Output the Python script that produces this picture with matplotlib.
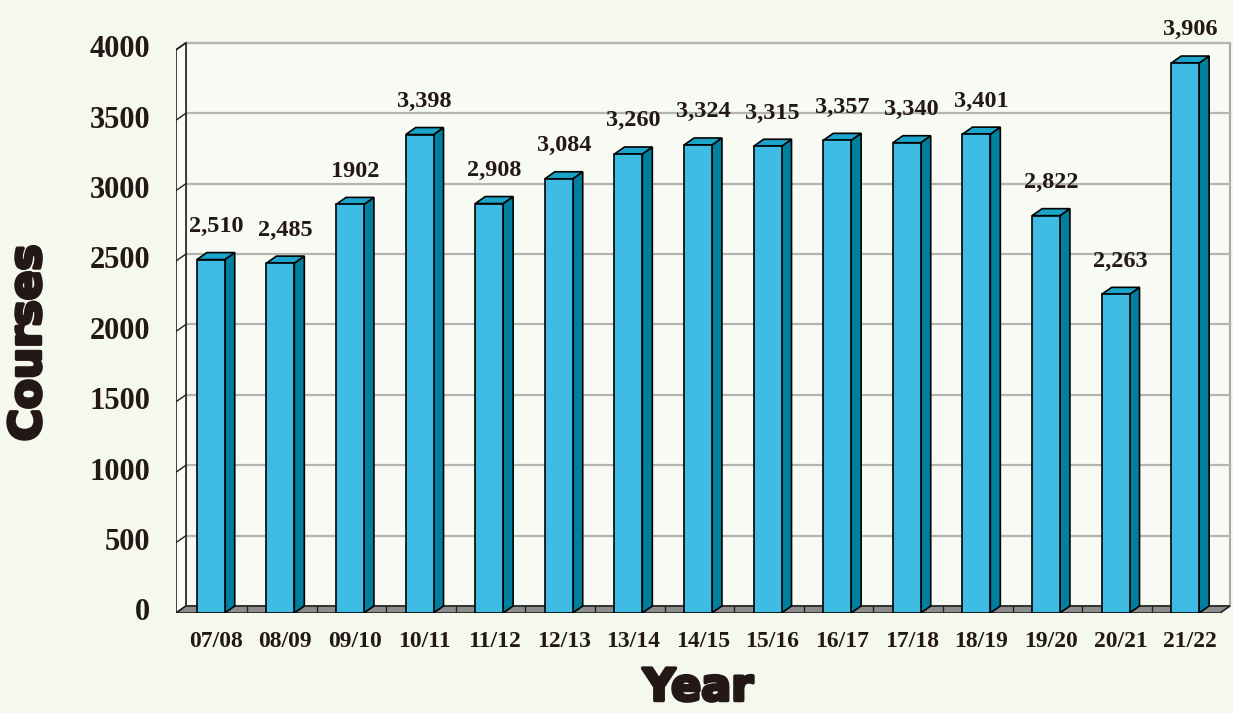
import matplotlib
matplotlib.use("Agg")
import matplotlib.pyplot as plt
from matplotlib.patches import Polygon
import matplotlib.patheffects as pe

# ---- data ----
years = ["07/08", "08/09", "09/10", "10/11", "11/12", "12/13", "13/14", "14/15",
         "15/16", "16/17", "17/18", "18/19", "19/20", "20/21", "21/22"]
courses = [2510, 2485, 2902, 3398, 2908, 3084, 3260, 3324, 3315, 3357, 3340, 3401,
           2822, 2263, 3906]
value_labels = ["2,510", "2,485", "1902", "3,398", "2,908", "3,084", "3,260", "3,324",
                "3,315", "3,357", "3,340", "3,401", "2,822", "2,263", "3,906"]
yticks = [0, 500, 1000, 1500, 2000, 2500, 3000, 3500, 4000]

# ---- figure ----
W, H = 1233, 713
BG = "#f4f8ed"
fig = plt.figure(figsize=(W / 100, H / 100), dpi=100, facecolor=BG)

px_per_cat = 69.6
px_per_val = 0.1408
left_px, bottom_px = 176, 100
ax = fig.add_axes([left_px / W, bottom_px / H, (W - left_px) / W, (H - bottom_px) / H])
ax.set_xlim(0, (W - left_px) / px_per_cat)
ax.set_ylim(0, (H - bottom_px) / px_per_val)
ax.axis("off")

dx = 10 / px_per_cat
dy = 7 / px_per_val
n = len(years)
ymax = 4000
serif = ["Liberation Serif", "DejaVu Serif"]
TXT = "#231815"

# back wall
ax.add_patch(Polygon([(dx, dy), (n + dx, dy), (n + dx, ymax + dy), (dx, ymax + dy)],
                     closed=True, facecolor="#f8fbf3", edgecolor="#a8a8a8", lw=1.5, zorder=1))
for v in yticks[1:]:
    ax.plot([dx, n + dx], [v + dy, v + dy], color="#b4b4b4", lw=1.6, zorder=2)

# left wall
ax.add_patch(Polygon([(0, 0), (dx, dy), (dx, ymax + dy), (0, ymax)],
                     closed=True, facecolor="#fbfdf8", edgecolor="#222222", lw=1.2, zorder=2))
for v in yticks[1:]:
    ax.plot([0, dx], [v, v + dy], color="#222222", lw=1.0, zorder=3)

# floor
ax.add_patch(Polygon([(0, 0), (n, 0), (n + dx, dy), (dx, dy)],
                     closed=True, facecolor="#8c8c8c", edgecolor="#222222", lw=1.2, zorder=3))
for i in range(1, n):
    ax.plot([i + 0.02, i + 0.02], [0, dy], color="#222222", lw=1.0, zorder=3.5)

# bars
bw = 0.4
FRONT, SIDE, TOP = "#3fbce4", "#00809e", "#1ba5cb"
for i, v in enumerate(courses):
    x0 = i + 0.5 - bw / 2
    x1 = x0 + bw
    ax.add_patch(Polygon([(x1, 0), (x1 + dx, dy), (x1 + dx, v + dy), (x1, v)],
                         closed=True, facecolor=SIDE, edgecolor="black", lw=1.2, zorder=4))
    ax.add_patch(Polygon([(x0, v), (x1, v), (x1 + dx, v + dy), (x0 + dx, v + dy)],
                         closed=True, facecolor=TOP, edgecolor="black", lw=1.2, zorder=4))
    ax.add_patch(Polygon([(x0, 0), (x1, 0), (x1, v), (x0, v)],
                         closed=True, facecolor=FRONT, edgecolor="black", lw=1.2, zorder=5))
    ax.text(i + 0.5 + dx / 2, v + 235, value_labels[i], ha="center", va="center",
            fontsize=17.5, fontweight="bold", family=serif, color=TXT, zorder=6)
    ax.text(i + 0.5 + dx / 2, -205, years[i], ha="center", va="center",
            fontsize=17, fontweight="bold", family=serif, color=TXT, clip_on=False)

for v in yticks:
    ax.text(-0.37, v, str(v), ha="right", va="center", fontsize=22, fontweight="bold",
            family=serif, color=TXT, clip_on=False)

heavy = ["DejaVu Sans"]
fx = [pe.withStroke(linewidth=2.5, foreground=TXT)]
fig.text(28 / W, 1 - 343 / H, "Courses", rotation=90, ha="center", va="center",
         fontsize=31.5, fontweight="bold", family=heavy, color=TXT, path_effects=fx)
fig.text(698 / W, 1 - 688 / H, "Year", ha="center", va="center",
         fontsize=32, fontweight="bold", family=heavy, color=TXT, path_effects=fx)

fig.savefig("out.png", dpi=100, facecolor=BG)
